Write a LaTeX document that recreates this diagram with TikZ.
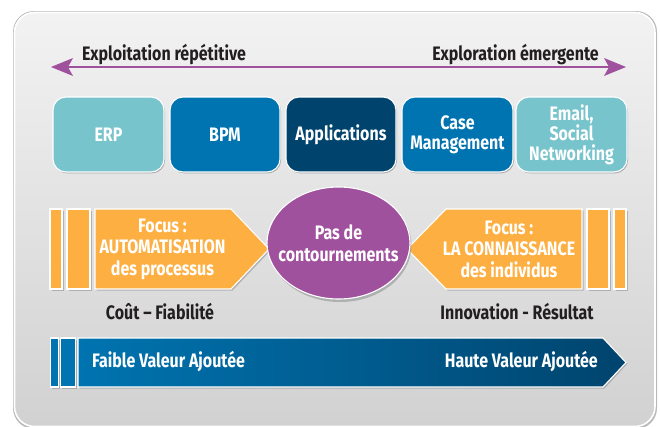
\documentclass[tikz,border=0pt]{standalone}
\usepackage{fontspec}
\setmainfont[FakeStretch=0.82]{Fira Sans}
\usetikzlibrary{arrows.meta,calc}
\definecolor{teal1}{HTML}{78C4CC}
\definecolor{blue1}{HTML}{0074B0}
\definecolor{navy1}{HTML}{00446E}
\definecolor{orange1}{HTML}{FDAF42}
\definecolor{purple1}{HTML}{A0519E}
\definecolor{ink}{HTML}{231F20}
\definecolor{shade1}{HTML}{8A8C8E}
\tikzset{
  x=1pt,y=-1pt,
  softshadow/.style={fill=shade1,draw=none,opacity=.55},
  rim/.style={draw=white,line width=1.1pt},
  tag/.style={font=\bfseries\fontsize{19.5}{21.5}\selectfont,text=ink,inner sep=0pt,align=center},
  lbl/.style={font=\bfseries\fontsize{19.5}{21.5}\selectfont,text=white,inner sep=0pt,align=center},
  appbox/.style={rim,rounded corners=13pt,minimum width=110pt,minimum height=75pt,inner sep=0pt,
     font=\bfseries\fontsize{19.5}{20}\selectfont,text=white,align=center,
     preaction={draw=none,fill=shade1,opacity=.7,transform canvas={shift={(1pt,-1.3pt)}}}},
  pur/.style={draw=purple1,line width=2.4pt},
  purhead/.style={fill=purple1,draw=none}
}
\newcommand{\barbox}[5]{% x1 x2 y1 y2 fill
  \fill[softshadow] (#1+1.5,#3+1.5) rectangle (#2+1.5,#4+1.5);
  \path[rim,fill=#5] (#1,#3) rectangle (#2,#4);}
\begin{document}
\begin{tikzpicture}
\useasboundingbox (0,0) rectangle (660,426);
\clip (0,0) rectangle (660,426);
\fill[white] (0,0) rectangle (660,426);
% panel
\fill[shade1,opacity=.6,rounded corners=21pt] (13,11) rectangle (657,429);
\path[draw=white,line width=1.6pt,rounded corners=20pt,top color=black!5,bottom color=black!18] (14.5,12.5) rectangle (655,426.5);
% purple double arrow
\coordinate (leftend) at (68,67);
\coordinate (rightend) at (609,67);
\coordinate (lefttip) at (51,67);
\coordinate (righttip) at (626,67);
\draw[pur] (leftend) -- (rightend);
\fill[purhead] (lefttip) -- (73,58) -- (68,67) -- (73,76) -- cycle;
\fill[purhead] (righttip) -- (604,58) -- (609,67) -- (604,76) -- cycle;
\node[tag] (exploit) at (164,54.5) {Exploitation répétitive};
\node[tag] (explor) at (515.5,54.5) {Exploration émergente};
% app boxes
\node[appbox,fill=teal1,minimum width=111pt] (erp) at (108.5,134.5) {ERP};
\node[appbox,fill=blue1] (bpm) at (225,134.5) {BPM};
\node[appbox,fill=navy1] (apps) at (341,134.5) {Applications};
\node[appbox,fill=blue1,minimum width=111pt] (case) at (457.5,134.5) {Case\\Management};
\node[appbox,fill=teal1,minimum width=111pt] (email) at (571.5,134.5) {Email,\\Social\\Networking};
% left orange
\barbox{50}{62}{209}{289}{orange1}
\barbox{67}{90}{209}{289}{orange1}
\fill[softshadow] (96.5,210.5) -- (232.5,210.5) -- (270.5,250.5) -- (232.5,290.5) -- (96.5,290.5) -- cycle;
\path[rim,fill=orange1] (95,209) -- (231,209) -- (269,249) -- (231,289) -- (95,289) -- cycle;
\node[lbl] (focusl) at (162.5,249) {Focus :\\AUTOMATISATION\\des processus};
% right orange
\barbox{614}{626}{209}{289}{orange1}
\barbox{587}{609}{209}{289}{orange1}
\fill[softshadow] (583.5,210.5) -- (447.5,210.5) -- (408.5,250.5) -- (447.5,290.5) -- (583.5,290.5) -- cycle;
\path[rim,fill=orange1] (582,209) -- (446,209) -- (407,249) -- (446,289) -- (582,289) -- cycle;
\node[lbl] (focusr) at (509,249) {Focus :\\LA CONNAISSANCE\\des individus};
% ellipse
\fill[softshadow] (340,245.5) ellipse [x radius=71.5,y radius=56.5];
\path[rim,fill=purple1] (338.5,243) ellipse [x radius=71.5,y radius=56];
\node[lbl] (pas) at (338.5,243.5) {Pas de\\contournements};
% captions
\node[tag] (cout) at (160,312) {Coût – Fiabilité};
\node[tag] (innov) at (517,312) {Innovation - Résultat};
% blue bar
\barbox{50.5}{58.5}{338}{387}{blue1}
\barbox{60.5}{75.5}{338}{387}{blue1}
\fill[softshadow] (79.5,339.5) -- (604.5,339.5) -- (627.5,363.5) -- (604.5,388.5) -- (79.5,388.5) -- cycle;
\path[rim,left color=blue1,right color=navy1] (78,338) -- (603,338) -- (626,362.5) -- (603,387) -- (78,387) -- cycle;
\node[lbl,anchor=west] (faible) at (92,362) {Faible Valeur Ajoutée};
\node[lbl,anchor=east] (haute) at (598,362) {Haute Valeur Ajoutée};
\end{tikzpicture}
\end{document}
